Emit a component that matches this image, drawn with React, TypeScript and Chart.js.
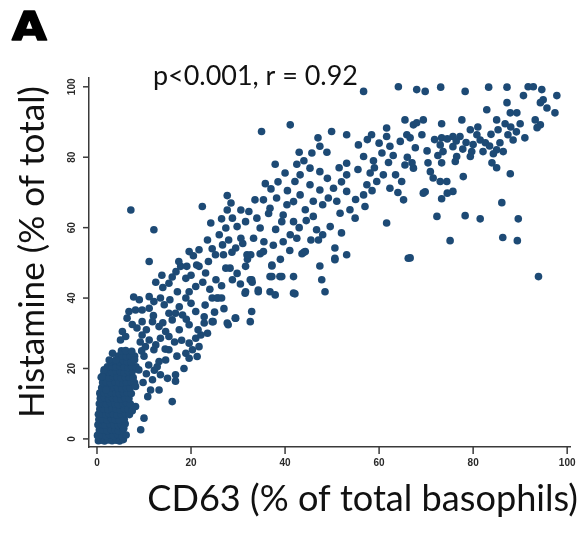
import React, { useEffect, useRef } from "react";
import { Chart, registerables } from "chart.js";

Chart.register(...registerables);

// ---------- text ----------
const panelLabel = "A";
const statLabel = "p<0.001, r = 0.92";
const xTitle = "CD63 (% of total basophils)";
const yTitle = "Histamine (% of total)";
const xTicks = [0, 20, 40, 60, 80, 100];
const yTicks = [0, 20, 40, 60, 80, 100];

// ---------- data: [CD63 %, Histamine %] ----------
const denseCluster: [number, number][] = [
  [0.3, -0.5], [0.8, -0.4], [1.6, -0.6], [2.4, -0.3], [3.2, -0.5], [4.1, -0.4], [4.8, -0.6], [5.6, -0.2],
  [0.1, 1.0], [1.0, 1.2], [1.9, 0.9], [2.7, 1.1], [3.5, 1.0], [4.4, 1.3], [5.3, 0.8], [6.2, 1.1],
  [0.5, 2.5], [1.3, 2.6], [2.2, 2.4], [3.0, 2.7], [3.9, 2.5], [4.6, 2.3], [5.5, 2.6],
  [0.2, 4.0], [1.1, 4.1], [1.8, 3.9], [2.8, 4.2], [3.6, 4.0], [4.5, 3.8], [5.2, 4.1], [6.0, 4.3],
  [0.4, 5.5], [1.2, 5.6], [2.1, 5.4], [3.1, 5.7], [3.9, 5.5], [4.8, 5.3], [5.8, 5.6],
  [0.3, 7.0], [1.0, 7.1], [1.9, 6.9], [2.6, 7.2], [3.5, 7.0], [4.3, 6.8], [5.1, 7.1], [6.1, 7.2], [6.9, 6.9],
  [0.6, 8.5], [1.4, 8.6], [2.3, 8.4], [3.2, 8.7], [4.0, 8.5], [4.9, 8.3], [5.7, 8.6], [6.6, 8.5],
  [0.5, 10.0], [1.2, 10.1], [2.0, 9.9], [2.9, 10.2], [3.8, 10.0], [4.6, 9.8], [5.5, 10.1], [6.3, 10.2], [7.1, 9.9],
  [0.7, 11.5], [1.6, 11.6], [2.5, 11.4], [3.3, 11.7], [4.2, 11.5], [5.1, 11.3], [5.9, 11.6], [6.8, 11.5],
  [0.6, 13.0], [1.5, 13.1], [2.3, 12.9], [3.1, 13.2], [4.0, 13.0], [4.8, 12.8], [5.6, 13.1], [6.5, 13.2], [7.3, 12.9],
  [1.0, 14.5], [1.8, 14.6], [2.7, 14.4], [3.6, 14.7], [4.4, 14.5], [5.3, 14.3], [6.2, 14.6], [7.0, 14.5],
  [1.2, 16.0], [2.0, 16.1], [2.9, 15.9], [3.8, 16.2], [4.7, 16.0], [5.5, 15.8], [6.3, 16.1], [7.2, 16.2], [8.0, 15.9],
  [0.9, 17.5], [1.7, 17.6], [2.6, 17.4], [3.4, 17.7], [4.3, 17.5], [5.2, 17.3], [6.0, 17.6], [6.9, 17.5], [7.7, 17.4],
  [1.5, 19.0], [2.4, 19.1], [3.3, 18.9], [4.1, 19.2], [5.0, 19.0], [5.8, 18.8], [6.7, 19.1], [7.5, 19.2],
  [2.2, 20.5], [3.2, 20.6], [4.0, 20.4], [4.9, 20.7], [5.7, 20.5], [6.6, 20.3], [7.4, 20.6], [8.3, 20.5],
  [3.0, 22.0], [3.9, 22.1], [4.8, 21.9], [5.6, 22.2], [6.4, 22.0], [7.3, 21.8],
  [4.5, 23.5], [5.4, 23.6], [6.2, 23.4], [7.0, 23.7], [8.0, 23.5],
  [5.2, 25.0], [6.1, 25.1], [7.4, 24.9],
];

const lowerBand: [number, number][] = [
  [1.1, 17.7], [1.5, 19.6], [1.9, 13.9], [3.3, 24.3], [4.0, 22.4], [2.6, 22.4],
  [5.7, 3.0], [9.3, 2.6], [10.0, 5.9], [7.5, 8.0], [8.2, 9.2], [8.2, 14.9], [8.9, 19.6],
  [16.0, 10.6], [11.4, 13.9], [13.2, 13.9], [11.8, 16.8], [13.5, 18.2], [15.0, 17.2], [16.7, 18.2], [16.7, 16.4],
  [12.8, 20.5], [13.2, 22.0], [14.6, 22.4], [10.0, 23.5], [11.0, 21.0], [9.5, 25.0], [10.5, 18.5], [9.8, 16.0],
  [18.9, 24.3], [19.6, 22.9], [21.3, 23.4], [20.3, 25.3], [21.7, 26.2], [19.6, 27.2], [21.0, 28.6], [22.1, 29.5],
  [12.1, 25.3], [15.3, 25.3], [12.5, 26.7], [10.3, 26.2], [11.1, 28.1], [9.6, 29.5], [13.5, 28.6], [15.3, 29.1],
  [14.6, 30.5], [13.2, 31.9], [14.5, 25.5], [16.5, 27.5], [18.0, 28.0], [17.5, 31.0],
  [5.4, 30.5], [6.1, 29.1], [5.0, 28.1], [6.4, 34.3], [6.8, 36.2], [8.2, 36.6], [9.6, 36.6], [11.1, 37.1],
  [9.6, 33.3], [11.8, 33.3], [10.5, 31.0], [12.0, 35.0], [8.5, 31.5], [7.5, 32.5], [14.0, 33.0],
  [15.3, 35.7], [16.7, 35.7], [18.2, 35.2], [16.0, 33.8], [19.6, 32.4], [21.0, 36.2], [22.8, 34.7], [22.8, 32.9],
  [24.5, 33.3], [24.7, 33.3], [27.9, 32.4], [29.4, 34.3], [29.5, 34.3], [27.7, 32.9], [32.6, 33.3], [32.9, 36.2],
  [17.5, 37.5], [20.0, 38.5], [23.0, 38.0], [15.5, 39.5], [9.0, 39.5], [7.8, 40.3],
  [11.1, 40.4], [12.1, 39.0], [13.5, 40.0], [14.3, 38.1], [17.1, 41.8], [18.9, 40.0], [19.6, 41.8],
  [24.5, 40.0], [25.5, 40.0], [26.5, 40.0], [25.8, 40.0], [31.5, 41.4], [31.6, 41.8], [34.3, 42.3], [36.8, 41.8],
  [37.9, 40.9], [42.1, 41.2], [41.8, 41.4], [48.5, 41.8], [34.3, 41.8],
  [14.0, 43.0], [15.3, 44.2], [16.0, 46.0], [18.9, 45.6], [21.0, 43.3], [23.1, 47.1], [25.3, 45.2], [28.8, 45.2],
  [32.6, 45.2], [32.9, 45.2], [33.0, 44.5], [36.8, 46.1], [37.2, 46.1], [38.9, 46.1], [39.3, 46.1], [41.8, 46.1],
  [47.8, 45.2],
  [17.8, 49.0], [19.1, 49.0], [21.2, 49.4], [21.7, 49.0], [23.7, 50.4], [27.4, 48.5], [28.3, 48.5], [31.6, 49.0],
  [37.2, 49.4], [37.2, 49.1], [47.4, 49.1], [50.6, 50.9],
  [11.1, 50.4], [17.4, 50.4], [32.0, 51.0],
  [12.5, 44.5], [13.8, 46.5], [16.8, 47.5], [20.0, 46.5], [22.5, 44.5], [24.0, 42.5], [26.5, 43.5], [29.8, 47.0],
  [30.5, 44.0], [27.0, 37.0], [25.0, 36.0], [19.0, 34.0], [21.5, 31.0], [23.5, 30.0], [17.0, 23.5], [18.5, 20.0],
  [10.8, 12.0], [12.2, 19.5], [8.0, 22.5], [9.2, 27.5],
];

const middleBand: [number, number][] = [
  [7.2, 65.0], [12.1, 59.4], [22.4, 66.0], [27.7, 69.1], [24.2, 61.3], [27.7, 65.0], [28.8, 62.7], [27.4, 59.9],
  [30.6, 65.0], [32.3, 64.6], [31.6, 61.7], [30.6, 57.0], [29.5, 54.2], [26.7, 55.1], [25.2, 52.3], [23.5, 56.5],
  [21.7, 53.7], [19.6, 53.2], [32.7, 52.3], [28.5, 67.0], [29.8, 60.3], [26.0, 58.0], [24.5, 54.0], [20.5, 52.0],
  [28.0, 56.5], [31.0, 55.5], [26.5, 62.5],
  [26.9, 52.3], [28.7, 53.0], [31.9, 52.3], [34.7, 52.6], [43.6, 52.6],
  [35.0, 87.3], [41.1, 89.2], [37.9, 78.0], [42.5, 78.0], [45.3, 76.9], [47.4, 75.9], [43.0, 81.4], [45.7, 81.2],
  [47.4, 83.1], [48.9, 81.4], [43.2, 75.0], [42.1, 73.1], [45.3, 72.2], [47.4, 70.7], [50.3, 71.2], [53.1, 70.3],
  [49.2, 68.4], [43.2, 69.3], [41.8, 67.4], [38.2, 68.4], [35.4, 67.9], [33.6, 67.9], [37.0, 71.0], [40.5, 70.5],
  [40.4, 66.5], [39.6, 63.6], [36.8, 65.5], [34.0, 62.7], [39.3, 61.7], [41.8, 61.7], [36.5, 64.0], [44.5, 62.0],
  [41.1, 58.0], [39.6, 56.0], [42.5, 57.0], [34.7, 59.9], [33.3, 57.0], [35.4, 53.2], [44.0, 53.0], [38.0, 59.5],
  [43.0, 60.0], [44.3, 53.2], [50.6, 54.2], [53.1, 52.3], [50.6, 51.3], [47.1, 56.5], [46.7, 59.4], [49.6, 60.3],
  [46.0, 63.2], [44.3, 65.1], [51.7, 64.1], [53.8, 65.1], [54.9, 62.7], [48.0, 66.5], [46.0, 67.5], [55.0, 68.0],
  [57.0, 66.0], [56.7, 69.3], [58.5, 70.5], [57.4, 72.2], [59.5, 73.1], [58.1, 75.5], [60.9, 75.0], [62.3, 71.2],
  [64.8, 73.1], [64.0, 70.0], [65.2, 67.9], [61.6, 61.3], [63.5, 75.0], [52.0, 73.0], [53.1, 75.0], [55.5, 76.5],
  [53.1, 78.3], [59.0, 77.0], [58.8, 79.0], [62.0, 78.5], [63.0, 80.5], [65.5, 77.8], [67.3, 76.9], [66.0, 80.0],
  [56.7, 80.2], [60.6, 81.2], [62.3, 83.1], [55.6, 83.5], [60.0, 84.0], [57.5, 85.0], [64.5, 84.5], [61.6, 85.9],
  [53.1, 86.4], [58.4, 86.4], [49.9, 87.3], [61.6, 88.3], [65.9, 86.4], [65.5, 90.6], [67.3, 89.2],
  [56.7, 98.7], [64.1, 100.0], [66.2, 51.3],
  [35.5, 56.0], [37.5, 55.0], [39.0, 51.0], [41.0, 53.5], [45.5, 56.5], [48.0, 58.0], [52.0, 58.5], [51.0, 67.5],
  [49.0, 74.0], [51.5, 77.0], [44.0, 79.0], [40.0, 75.5], [38.5, 73.0], [35.8, 72.5], [47.0, 85.5],
];

const upperBand: [number, number][] = [
  [68.0, 99.2], [69.8, 98.7], [73.1, 99.9], [78.3, 98.7], [83.3, 99.9], [87.2, 99.9], [91.7, 100.0], [92.8, 100.0],
  [94.6, 99.2], [97.8, 97.5], [90.7, 97.5], [94.9, 96.3], [94.3, 95.5], [95.7, 94.0], [97.4, 92.6], [87.2, 95.5],
  [82.9, 93.5], [87.9, 92.6], [89.3, 92.6], [77.6, 90.6], [73.3, 89.5], [69.4, 90.6], [68.0, 89.8], [85.0, 90.6],
  [86.8, 89.5], [90.0, 89.5], [93.2, 90.6], [94.3, 89.2], [93.6, 88.4], [85.3, 87.8], [87.4, 86.4], [88.5, 84.9],
  [85.7, 84.1], [79.4, 87.8], [80.8, 86.4], [75.7, 85.9], [77.2, 85.9], [73.3, 85.5], [81.5, 84.9], [82.6, 84.1],
  [73.0, 83.5], [73.6, 81.6], [75.7, 83.0], [79.7, 81.6], [82.1, 81.6], [79.4, 80.2], [85.0, 82.1], [86.4, 81.6],
  [76.5, 80.2], [66.6, 85.5], [69.1, 86.4], [67.7, 82.7], [67.0, 78.4], [70.4, 78.4], [73.3, 78.4], [76.2, 78.8],
  [84.0, 78.4], [85.0, 77.0], [87.9, 75.3], [70.9, 75.9], [71.5, 74.1], [73.0, 73.1], [74.4, 73.1], [77.9, 74.5],
  [75.7, 70.3], [69.8, 70.2], [73.3, 68.2], [74.5, 69.8], [69.4, 69.8], [86.1, 67.1], [72.3, 63.2], [78.3, 63.4],
  [81.5, 62.5], [89.6, 62.5], [75.1, 56.3], [86.3, 57.2], [89.4, 56.3], [66.6, 51.4], [93.9, 46.1],
  [74.5, 85.2], [76.4, 84.6], [78.5, 84.2], [80.0, 83.6], [83.5, 83.2], [84.3, 81.0], [77.8, 82.3], [81.0, 88.6],
  [88.0, 88.6], [89.2, 87.2], [91.0, 85.5], [83.8, 86.5], [71.8, 85.0], [72.5, 80.5], [70.2, 81.8],
];

const allPoints = [...denseCluster, ...lowerBand, ...middleBand, ...upperBand];

const MARKER = "#1d4a75";
const AXIS = "#3a3a3a";
const TEXT = "#111111";

function fitFont(ctx: CanvasRenderingContext2D, text: string, weight: string, family: string, width: number) {
  ctx.font = `${weight} 30px ${family}`;
  const w = ctx.measureText(text).width;
  const size = (30 * width) / w;
  ctx.font = `${weight} ${size}px ${family}`;
}

const overlay = {
  id: "overlay",
  afterDraw(chart: any) {
    const ctx: CanvasRenderingContext2D = chart.ctx;
    const xs = chart.scales.x;
    const ys = chart.scales.y;
    const area = chart.chartArea;
    ctx.save();
    ctx.strokeStyle = AXIS;
    ctx.lineWidth = 1.5;
    ctx.fillStyle = "#2a2a2a";
    ctx.font = "bold 10px 'Liberation Sans', Arial, sans-serif";
    ctx.textAlign = "center";
    ctx.textBaseline = "middle";
    xTicks.forEach((v) => {
      const px = xs.getPixelForValue(v);
      ctx.beginPath();
      ctx.moveTo(px, area.bottom);
      ctx.lineTo(px, area.bottom + 7);
      ctx.stroke();
      ctx.fillText(String(v), px, area.bottom + 16);
    });
    yTicks.forEach((v) => {
      const py = ys.getPixelForValue(v);
      ctx.beginPath();
      ctx.moveTo(area.left, py);
      ctx.lineTo(area.left - 6, py);
      ctx.stroke();
      ctx.save();
      ctx.translate(area.left - 17, py);
      ctx.rotate(-Math.PI / 2);
      ctx.fillText(String(v), 0, 0);
      ctx.restore();
    });

    const family = "Lato, 'Open Sans', sans-serif";
    ctx.fillStyle = TEXT;
    // x title
    fitFont(ctx, xTitle, "normal", family, 431);
    ctx.textAlign = "right";
    ctx.textBaseline = "alphabetic";
    ctx.fillText(xTitle, 578, 511);
    // y title
    fitFont(ctx, yTitle, "normal", family, 332);
    ctx.save();
    ctx.translate(44, 252);
    ctx.rotate(-Math.PI / 2);
    ctx.textAlign = "center";
    ctx.fillText(yTitle, 0, 0);
    ctx.restore();
    // stat label
    fitFont(ctx, statLabel, "normal", family, 205);
    ctx.textAlign = "left";
    ctx.fillText(statLabel, 153, 85);
    // panel label (heavy)
    ctx.save();
    ctx.translate(12, 40);
    ctx.scale(1.18, 1.02);
    ctx.font = "bold 38px 'DejaVu Sans', sans-serif";
    ctx.fillStyle = "#000";
    ctx.strokeStyle = "#000";
    ctx.lineWidth = 1.6;
    ctx.lineJoin = "round";
    ctx.fillText(panelLabel, 0, 0);
    ctx.strokeText(panelLabel, 0, 0);
    ctx.restore();
    ctx.restore();
  },
};

export default function App() {
  const ref = useRef<HTMLCanvasElement | null>(null);
  useEffect(() => {
    if (!ref.current) return;
    const chart = new Chart(ref.current, {
      type: "scatter",
      data: {
        datasets: [
          {
            data: allPoints.map(([x, y]) => ({ x, y })),
            backgroundColor: MARKER,
            borderColor: MARKER,
            borderWidth: 0,
            pointRadius: 3.8,
            pointHoverRadius: 3.8,
            pointStyle: "circle",
            clip: false,
          },
        ],
      },
      options: {
        animation: false,
        responsive: false,
        devicePixelRatio: 1,
        layout: { padding: { left: 89, top: 78, right: 17, bottom: 87 } },
        plugins: { legend: { display: false }, tooltip: { enabled: false }, title: { display: false } },
        events: [],
        scales: {
          x: {
            type: "linear",
            min: -1.7,
            max: 100.6,
            grid: { display: false, drawTicks: false },
            border: { display: true, color: AXIS, width: 1.5 },
            ticks: { display: false },
          },
          y: {
            type: "linear",
            min: -2.3,
            max: 102.5,
            grid: { display: false, drawTicks: false },
            border: { display: true, color: AXIS, width: 1.5 },
            ticks: { display: false },
          },
        },
      },
      plugins: [overlay],
    });
    return () => chart.destroy();
  }, []);
  return (
    <div style={{ position: "fixed", left: 0, top: 0, width: 587, height: 534, background: "#fff" }}>
      <canvas ref={ref} width={587} height={534} style={{ width: 587, height: 534 }} />
    </div>
  );
}
